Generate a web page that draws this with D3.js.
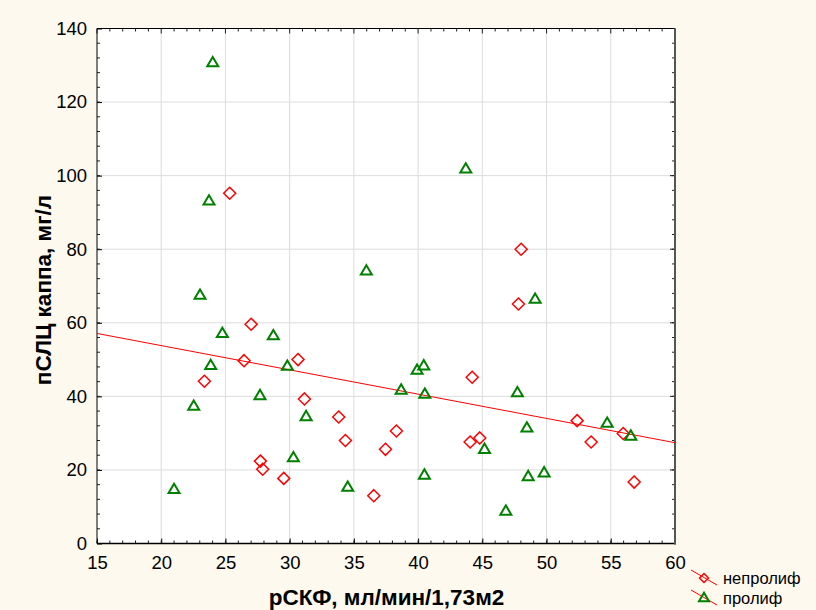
<!DOCTYPE html>
<html><head><meta charset="utf-8">
<script src="https://cdn.jsdelivr.net/npm/d3@7"></script>
<style>html,body{margin:0;padding:0;background:#fdf9ee;}svg{display:block;}</style>
</head><body>
<script>
const nonprolifX = [25.33,48.02,27.0,26.45,30.65,23.36,31.15,33.82,34.34,37.46,27.72,27.9,29.54,36.55,47.81,44.21,38.31,44.05,44.8,52.38,55.97,53.47,56.82];
const nonprolifY = [95.2,80.0,59.6,49.7,50.0,44.1,39.3,34.4,28.0,25.6,22.4,20.2,17.7,13.0,65.1,45.2,30.6,27.6,28.7,33.4,29.9,27.6,16.7];
const prolifX = [24.01,23.72,35.97,43.71,23.02,24.76,28.73,29.82,23.85,27.69,22.53,31.28,30.29,21.0,34.52,49.11,39.92,40.44,38.68,40.52,47.73,45.17,48.47,54.72,56.56,40.49,48.57,49.81,46.83];
const prolifY = [130.7,93.1,74.1,101.8,67.5,57.1,56.5,48.2,48.4,40.2,37.3,34.5,23.3,14.7,15.3,66.4,47.1,48.3,41.7,40.6,41.0,25.6,31.4,32.7,29.2,18.6,18.2,19.2,8.8];
const fitX = [15, 60];
const fitY = [57.1, 27.4];
const xTicks = [15,20,25,30,35,40,45,50,55,60];
const yTicks = [0,20,40,60,80,100,120,140];
const seriesNames = ["непролиф","пролиф"];
const xTitle = "рСКФ, мл/мин/1,73м2";
const yTitle = "пСЛЦ каппа, мг/л";

const W=816,H=610;
const L=97,R=675,T=28.5,B=543.5;
const svg=d3.select("body").append("svg").attr("width",W).attr("height",H);
svg.append("rect").attr("width",W).attr("height",H).attr("fill","#fdf9ee");
const x=d3.scaleLinear().domain([15,60]).range([L,R]);
const y=d3.scaleLinear().domain([0,140]).range([B,T]);
const font="'Liberation Sans', Arial, sans-serif";

svg.append("rect").attr("x",L).attr("y",T).attr("width",R-L).attr("height",B-T).attr("fill","#fff");
// grid
svg.append("g").selectAll("line").data(xTicks.slice(1,-1)).join("line")
 .attr("x1",d=>x(d)).attr("x2",d=>x(d)).attr("y1",T).attr("y2",B).attr("stroke","#dcdcdc").attr("stroke-width",1);
svg.append("g").selectAll("line").data(yTicks.slice(1,-1)).join("line")
 .attr("y1",d=>y(d)).attr("y2",d=>y(d)).attr("x1",L).attr("x2",R).attr("stroke","#dcdcdc").attr("stroke-width",1);

// axes with inward ticks
const xMinor=d3.range(15,61,1), yMinor=d3.range(0,141,4);
const axB=d3.axisBottom(x).tickValues(xTicks).tickSize(-5).tickSizeOuter(0).tickPadding(12).tickFormat(d3.format("d"));
const gB=svg.append("g").attr("transform",`translate(0,${B})`).call(axB);
const axL=d3.axisLeft(y).tickValues(yTicks).tickSize(-5).tickSizeOuter(0).tickPadding(10).tickFormat(d3.format("d"));
const gL=svg.append("g").attr("transform",`translate(${L},0)`).call(axL);
[gB,gL].forEach(g=>{g.select(".domain").remove();g.selectAll("text").attr("font-family",font).attr("font-size",18.5).attr("fill","#000");g.selectAll("line").attr("stroke","#000");});
gB.selectAll("text").attr("dy","0.71em");
// minor ticks on all sides
const mt=svg.append("g").attr("stroke","#222").attr("stroke-width",1);
xMinor.forEach(v=>{mt.append("line").attr("x1",x(v)).attr("x2",x(v)).attr("y1",B).attr("y2",B-3);
 mt.append("line").attr("x1",x(v)).attr("x2",x(v)).attr("y1",T).attr("y2",T+(xTicks.includes(v)?5:3));});
yMinor.forEach(v=>{mt.append("line").attr("y1",y(v)).attr("y2",y(v)).attr("x1",L).attr("x2",L+3);
 mt.append("line").attr("y1",y(v)).attr("y2",y(v)).attr("x1",R).attr("x2",R-3);});
yTicks.forEach(v=>{mt.append("line").attr("y1",y(v)).attr("y2",y(v)).attr("x1",R).attr("x2",R-5);});
// frame
svg.append("line").attr("x1",L).attr("x2",R).attr("y1",T).attr("y2",T).attr("stroke","#000");
svg.append("line").attr("x1",L).attr("x2",L).attr("y1",T).attr("y2",B).attr("stroke","#000");
svg.append("line").attr("x1",L).attr("x2",R+1).attr("y1",B).attr("y2",B).attr("stroke","#000").attr("stroke-width",1.5);
svg.append("line").attr("x1",R).attr("x2",R).attr("y1",T).attr("y2",B+1).attr("stroke","#555").attr("stroke-width",2);

// fit line
svg.append("line").attr("x1",x(fitX[0])).attr("y1",y(fitY[0])).attr("x2",x(fitX[1])).attr("y2",y(fitY[1])).attr("stroke","#ff0000").attr("stroke-width",1);

const diamond=(cx,cy,r)=>`M${cx},${cy-r}L${cx+r},${cy}L${cx},${cy+r}L${cx-r},${cy}Z`;
const tri=(cx,cy,r)=>`M${cx},${cy-r*1.05}L${cx+r},${cy+r*0.65}L${cx-r},${cy+r*0.65}Z`;

const nonData=nonprolifX.map((v,i)=>({x:v,y:nonprolifY[i]}));
const proData=prolifX.map((v,i)=>({x:v,y:prolifY[i]}));
svg.append("g").selectAll("path").data(nonData).join("path")
 .attr("d",d=>diamond(x(d.x),y(d.y),6)).attr("fill","none").attr("stroke","#ff0000").attr("stroke-width",1.5);
svg.append("g").selectAll("path").data(proData).join("path")
 .attr("d",d=>tri(x(d.x),y(d.y),5.5)).attr("fill","none").attr("stroke","#008000").attr("stroke-width",2);

// titles
svg.append("text").attr("x",386.5).attr("y",605).attr("text-anchor","middle").attr("font-family",font).attr("font-weight","bold").attr("font-size",22.5).text(xTitle);
svg.append("text").attr("transform",`translate(51,290) rotate(-90)`).attr("text-anchor","middle").attr("font-family",font).attr("font-weight","bold").attr("font-size",22.5).text(yTitle);

// legend
const lg=svg.append("g");
[[578,"d"],[598,"t"]].forEach(([cy,k],i)=>{
 lg.append("line").attr("x1",691).attr("y1",cy-8).attr("x2",717).attr("y2",cy+7).attr("stroke","#ff0000").attr("stroke-width",1);
 if(k==="d") lg.append("path").attr("d",diamond(704,cy,4.5)).attr("fill","none").attr("stroke","#ff0000").attr("stroke-width",1.5);
 else lg.append("path").attr("d",tri(704,cy,5)).attr("fill","none").attr("stroke","#008000").attr("stroke-width",2);
 lg.append("text").attr("x",723).attr("y",cy+6).attr("font-family",font).attr("font-size",16.5).text(seriesNames[i]);
});
</script>
</body></html>
